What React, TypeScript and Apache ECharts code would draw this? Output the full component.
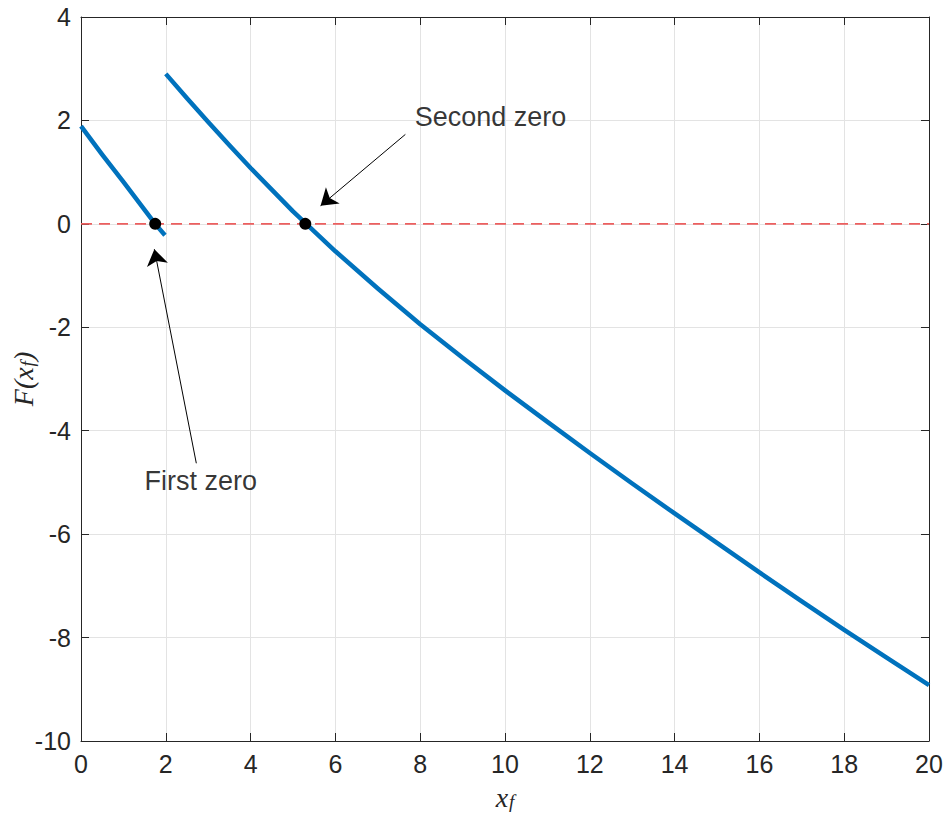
import React, { useEffect, useRef } from "react";
import * as echarts from "echarts";

const xTicks = [0, 2, 4, 6, 8, 10, 12, 14, 16, 18, 20];
const yTicks = [-10, -8, -6, -4, -2, 0, 2, 4];

const branch1X = [0, 0.5, 1, 1.5, 1.75, 1.98];
const branch1Y = [1.89, 1.34, 0.81, 0.27, 0.0, -0.22];

const branch2X = [2, 2.5, 3, 3.5, 4, 5, 6, 7, 8, 9, 10, 11, 12, 13, 14, 15, 16, 17, 18, 19, 20];
const branch2Y = [2.9, 2.43, 1.97, 1.52, 1.08, 0.24, -0.53, -1.25, -1.94, -2.59, -3.22, -3.83, -4.43, -5.02, -5.6, -6.17, -6.74, -7.3, -7.85, -8.39, -8.92];

const zeroX = [1.75, 5.29];
const zeroY = [0, 0];

const refLineX = [0, 20];
const refLineY = [0, 0];

const annotationTexts = ["Second zero", "First zero"];
const annotationTextPos = [[7.87, 2.07], [1.5, -4.97]];
const arrowFrom = [[7.65, 1.73], [2.72, -4.63]];
const arrowTo = [[5.65, 0.35], [1.73, -0.49]];

const FONT = "'Liberation Sans', Arial, Helvetica, sans-serif";
const MATH = "'Liberation Serif', 'DejaVu Serif', serif";
const AX = "#262626";

export default function App() {
  const ref = useRef<HTMLDivElement>(null);
  useEffect(() => {
    if (!ref.current) return;
    const chart = echarts.init(ref.current, undefined, { renderer: "svg" });
    const zip = (xs: number[], ys: number[]) => xs.map((x, i) => [x, ys[i]]);
    const baseX = {
      type: "value",
      min: xTicks[0],
      max: xTicks[xTicks.length - 1],
      interval: 2,
    };
    const baseY = {
      type: "value",
      min: yTicks[0],
      max: yTicks[yTicks.length - 1],
      interval: 2,
    };
    const mathRich = {
      i: { fontFamily: MATH, fontStyle: "italic", fontSize: 28, color: AX, verticalAlign: "bottom" },
      s: { fontFamily: MATH, fontStyle: "italic", fontSize: 19, color: AX, verticalAlign: "bottom", padding: [14, 0, 0, 1] },
    };
    chart.setOption({
      animation: false,
      backgroundColor: "#ffffff",
      grid: { left: 81, right: 20, top: 17, bottom: 80, containLabel: false, outerBoundsMode: "none" },
      xAxis: [
        {
          ...baseX,
          position: "bottom",
          axisLine: { show: true, onZero: false, lineStyle: { color: AX, width: 1 } },
          axisTick: { show: true, inside: true, length: 8, lineStyle: { color: AX } },
          axisLabel: { color: AX, fontSize: 25, fontFamily: FONT, margin: 10 },
          splitLine: { show: true, lineStyle: { color: "#e3e3e3", width: 1 } },
          name: "{i|x}{s|f}",
          nameLocation: "middle",
          nameGap: 37,
          nameMoveOverlap: false,
          nameTextStyle: { rich: mathRich },
        },
        {
          ...baseX,
          position: "top",
          axisLine: { show: true, onZero: false, lineStyle: { color: AX, width: 1 } },
          axisTick: { show: true, inside: true, length: 8, lineStyle: { color: AX } },
          axisLabel: { show: false },
          splitLine: { show: false },
        },
      ],
      yAxis: [
        {
          ...baseY,
          position: "left",
          axisLine: { show: true, onZero: false, lineStyle: { color: AX, width: 1 } },
          axisTick: { show: true, inside: true, length: 8, lineStyle: { color: AX } },
          axisLabel: { color: AX, fontSize: 25, fontFamily: FONT, margin: 10 },
          splitLine: { show: true, lineStyle: { color: "#e3e3e3", width: 1 } },
          name: "{i|F(x}{s|f}{i|)}",
          nameLocation: "middle",
          nameRotate: 90,
          nameGap: 44,
          nameMoveOverlap: false,
          nameTextStyle: { rich: mathRich },
        },
        {
          ...baseY,
          position: "right",
          axisLine: { show: true, onZero: false, lineStyle: { color: AX, width: 1 } },
          axisTick: { show: true, inside: true, length: 8, lineStyle: { color: AX } },
          axisLabel: { show: false },
          splitLine: { show: false },
        },
      ],
      series: [
        {
          type: "line",
          data: zip(refLineX, refLineY),
          symbol: "none",
          lineStyle: { color: "#ec5f5f", width: 1.8, type: [11, 7] },
          z: 2,
        },
        {
          type: "line",
          data: zip(branch1X, branch1Y),
          symbol: "none",
          lineStyle: { color: "#0072BD", width: 4.5, cap: "butt", join: "round" },
          z: 3,
        },
        {
          type: "line",
          data: zip(branch2X, branch2Y),
          symbol: "none",
          lineStyle: { color: "#0072BD", width: 4.5, cap: "butt", join: "round" },
          z: 3,
        },
        {
          type: "scatter",
          data: zip(zeroX, zeroY),
          symbol: "circle",
          symbolSize: 12,
          itemStyle: { color: "#000000", opacity: 1 },
          z: 4,
        },
        {
          type: "lines",
          coordinateSystem: "cartesian2d",
          data: arrowFrom.map((f, i) => ({ coords: [f, arrowTo[i]] })),
          symbol: ["none", "arrow"],
          symbolSize: 16,
          lineStyle: { color: "#000000", width: 1, opacity: 1 },
          z: 5,
        },
        {
          type: "scatter",
          data: annotationTextPos.map((p, i) => ({ value: p, name: annotationTexts[i] })),
          symbolSize: 0,
          label: {
            show: true,
            position: "right",
            distance: 0,
            formatter: (p: any) => p.name,
            color: "#000000",
            fontSize: 27,
            fontFamily: FONT,
          },
          z: 5,
        },
      ],
    });
    return () => chart.dispose();
  }, []);
  return (
    <div
      ref={ref}
      style={{ position: "fixed", left: 0, top: 0, width: 949, height: 821, background: "#fff" }}
    />
  );
}
